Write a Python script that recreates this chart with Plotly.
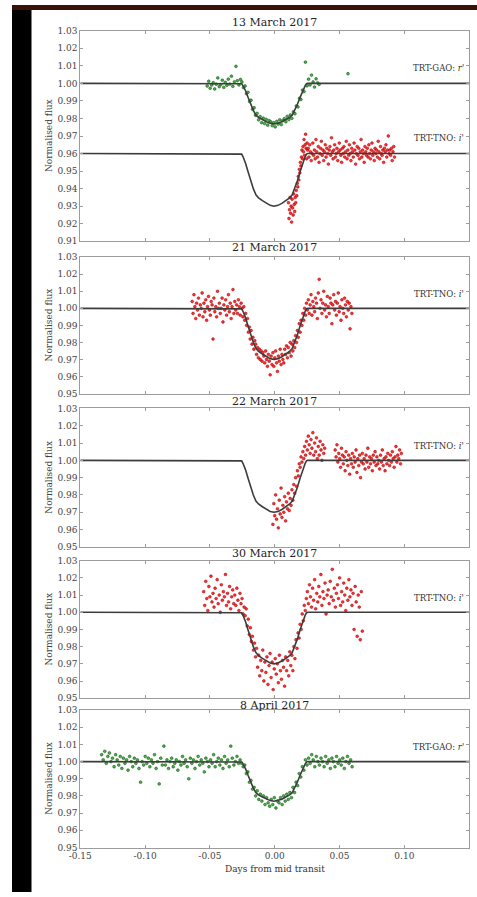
import plotly.graph_objects as go

W, H = 477, 897

# ---------------- transit model (shared shape, days from mid transit) ----------------
model_t = [-0.15, -0.0265, -0.0255, -0.0245, -0.0225, -0.0205, -0.0185, -0.0165, -0.0145,
           -0.0125, -0.0095, -0.0065, -0.0035, -0.0005, 0.0025, 0.0055, 0.0085, 0.0115,
           0.0135, 0.0155, 0.0175, 0.0195, 0.0215, 0.0235, 0.0245, 0.0255, 0.15]
model_tno = [1.0, 1.0, 0.9997, 0.9983, 0.9945, 0.9895, 0.9845, 0.9800, 0.9765,
             0.9748, 0.9732, 0.9716, 0.9705, 0.9700, 0.9705, 0.9716, 0.9732, 0.9748,
             0.9765, 0.9800, 0.9845, 0.9895, 0.9945, 0.9983, 0.9997, 1.0, 1.0]
model_gao = [1.0, 1.0, 0.9998, 0.9987, 0.9958, 0.9919, 0.9881, 0.9846, 0.9819,
             0.9806, 0.9794, 0.9781, 0.9773, 0.9769, 0.9773, 0.9781, 0.9794, 0.9806,
             0.9819, 0.9846, 0.9881, 0.9919, 0.9958, 0.9987, 0.9998, 1.0, 1.0]

# vertical shift applied to the TNO light curve of 13 March for display
TNO_OFFSET_13MAR = 0.04

# ---------------- 13 March 2017, TRT-GAO r' ----------------
gao_13mar_t = [
    -0.0521, -0.0509, -0.0498, -0.0486, -0.0474, -0.0463, -0.0451, -0.0439, -0.0428, -0.0416,
    -0.0404, -0.0393, -0.0381, -0.0369, -0.0358, -0.0346, -0.0334, -0.0323, -0.0311, -0.0299,
    -0.0288, -0.0276, -0.0264, -0.0253, -0.0241, -0.0229, -0.0218, -0.0206, -0.0194, -0.0183,
    -0.0171, -0.0159, -0.0148, -0.0136, -0.0124, -0.0113, -0.0101, -0.0089, -0.0078, -0.0066,
    -0.0054, -0.0043, -0.0031, -0.0019, -0.0008, 0.0004, 0.0016, 0.0027, 0.0039, 0.0051,
    0.0062, 0.0074, 0.0086, 0.0097, 0.0109, 0.0121, 0.0132, 0.0144, 0.0156, 0.0167,
    0.0179, 0.0191, 0.0202, 0.0214, 0.0226, 0.0237, 0.0249, 0.0261, 0.0272, 0.0284,
    0.0296, 0.0307, 0.0319, 0.0331, 0.0342, 0.0565]
gao_13mar_f = [
    0.9985, 1.0012, 0.9972, 0.9990, 1.0004, 0.9968, 0.9995, 1.0031, 0.9981, 0.9993,
    1.0018, 0.9977, 1.0006, 0.9989, 1.0024, 0.9996, 1.0041, 0.9983, 1.0009, 1.0097,
    1.0015, 0.9991, 1.0022, 1.0008, 0.9976, 0.9985, 0.9941, 0.9949, 0.9897, 0.9904,
    0.9852, 0.9861, 0.9818, 0.9829, 0.9792, 0.9811, 0.9776, 0.9802, 0.9771, 0.9795,
    0.9762, 0.9788, 0.9781, 0.9759, 0.9776, 0.9752, 0.9783, 0.9768, 0.9792, 0.9765,
    0.9788, 0.9799, 0.9781, 0.9812, 0.9794, 0.9820, 0.9801, 0.9838, 0.9827, 0.9871,
    0.9866, 0.9915, 0.9908, 0.9962, 0.9953, 1.0121, 0.9986, 1.0024, 0.9991, 1.0047,
    1.0008, 0.9979, 1.0026, 1.0003, 0.9994, 1.0055]

# ---------------- 13 March 2017, TRT-TNO i' ----------------
tno_13mar_t = [
    0.0106, 0.0110, 0.0114, 0.0118, 0.0122, 0.0126, 0.0130, 0.0134, 0.0138, 0.0142,
    0.0146, 0.0150, 0.0154, 0.0158, 0.0162, 0.0166, 0.0170, 0.0174, 0.0178, 0.0182,
    0.0186, 0.0190, 0.0194, 0.0198, 0.0202, 0.0206, 0.0210, 0.0214, 0.0218, 0.0222,
    0.0226, 0.0230, 0.0234, 0.0238, 0.0242, 0.0246, 0.0250, 0.0254,
    0.0258, 0.0264, 0.0270, 0.0276, 0.0282, 0.0288, 0.0294, 0.0300, 0.0306, 0.0312,
    0.0318, 0.0324, 0.0330, 0.0336, 0.0342, 0.0348, 0.0354, 0.0360, 0.0366, 0.0372,
    0.0378, 0.0384, 0.0390, 0.0396, 0.0402, 0.0408, 0.0414, 0.0420, 0.0426, 0.0432,
    0.0438, 0.0444, 0.0450, 0.0456, 0.0462, 0.0468, 0.0474, 0.0480, 0.0486, 0.0492,
    0.0498, 0.0504, 0.0510, 0.0516, 0.0522, 0.0528, 0.0534, 0.0540, 0.0546, 0.0552,
    0.0558, 0.0564, 0.0570, 0.0576, 0.0582, 0.0588, 0.0594, 0.0600, 0.0606, 0.0612,
    0.0618, 0.0624, 0.0630, 0.0636, 0.0642, 0.0648, 0.0654, 0.0660, 0.0666, 0.0672,
    0.0678, 0.0684, 0.0690, 0.0696, 0.0702, 0.0708, 0.0714, 0.0720, 0.0726, 0.0732,
    0.0738, 0.0744, 0.0750, 0.0756, 0.0762, 0.0768, 0.0774, 0.0780, 0.0786, 0.0792,
    0.0798, 0.0804, 0.0810, 0.0816, 0.0822, 0.0828, 0.0834, 0.0840, 0.0846, 0.0852,
    0.0858, 0.0864, 0.0870, 0.0876, 0.0882, 0.0888, 0.0894, 0.0900, 0.0906, 0.0912,
    0.0918, 0.0924]
tno_13mar_f = [
    0.972, 0.963, 0.968, 0.975, 0.966, 0.970, 0.961, 0.974, 0.969, 0.965,
    0.977, 0.971, 0.967, 0.975, 0.972, 0.979, 0.976, 0.983, 0.981, 0.987,
    0.985, 0.991, 0.989, 0.995, 0.993, 0.998, 1.002, 0.997, 1.004, 1.001,
    1.008, 0.999, 1.005, 1.011, 1.003, 0.997, 1.006, 1.002,
    1.003, 0.998, 1.005, 1.001, 0.996, 1.000, 1.006, 0.999, 1.002, 0.997,
    1.008, 1.001, 0.998, 1.004, 0.995, 1.000, 1.003, 1.007, 0.999, 1.002,
    0.996, 1.001, 1.005, 0.998, 1.003, 1.000, 0.994, 1.002, 1.004, 0.999,
    1.009, 1.001, 0.997, 1.002, 1.005, 0.998, 1.000, 1.003, 0.996, 1.001,
    1.006, 1.002, 0.999, 0.995, 1.003, 1.000, 1.004, 0.998, 1.001, 1.007,
    0.997, 1.002, 0.999, 1.005, 1.000, 0.996, 1.003, 1.001, 0.998, 1.006,
    1.002, 0.994, 1.000, 1.004, 0.999, 1.003, 0.997, 1.001, 1.008, 0.998,
    1.002, 1.000, 0.995, 1.004, 1.001, 0.999, 1.003, 0.998, 1.005, 1.000,
    0.997, 1.002, 1.006, 0.999, 1.001, 0.996, 1.003, 1.000, 1.002, 0.998,
    1.007, 1.001, 0.997, 1.004, 1.000, 0.999, 1.002, 0.995, 1.003, 1.001,
    1.005, 0.998, 1.002, 1.010, 1.000, 1.002, 0.999, 1.003, 0.996, 1.001,
    1.004, 0.998]

# ---------------- 21 March 2017, TRT-TNO i' ----------------
tno_21mar_t = [
    -0.0637, -0.0630, -0.0623, -0.0616, -0.0609, -0.0602, -0.0595, -0.0588, -0.0581, -0.0574,
    -0.0567, -0.0560, -0.0553, -0.0546, -0.0539, -0.0532, -0.0525, -0.0518, -0.0511, -0.0504,
    -0.0497, -0.0490, -0.0483, -0.0476, -0.0469, -0.0462, -0.0455, -0.0448, -0.0441, -0.0434,
    -0.0427, -0.0420, -0.0413, -0.0406, -0.0399, -0.0392, -0.0385, -0.0378, -0.0371, -0.0364,
    -0.0357, -0.0350, -0.0343, -0.0336, -0.0329, -0.0322, -0.0315, -0.0308, -0.0301, -0.0294,
    -0.0287, -0.0280, -0.0273, -0.0266, -0.0259, -0.0252, -0.0245, -0.0238, -0.0231, -0.0224,
    -0.0217, -0.0210, -0.0203, -0.0196, -0.0189, -0.0182, -0.0175, -0.0168, -0.0161, -0.0154,
    -0.0147, -0.0140, -0.0133, -0.0126, -0.0119, -0.0112, -0.0105, -0.0098, -0.0091, -0.0084,
    -0.0077, -0.0070, -0.0063, -0.0056, -0.0049, -0.0042, -0.0035, -0.0028, -0.0021, -0.0014,
    -0.0007, 0.0000, 0.0007, 0.0014, 0.0021, 0.0028, 0.0035, 0.0042, 0.0049, 0.0056,
    0.0063, 0.0070, 0.0077, 0.0084, 0.0091, 0.0098, 0.0105, 0.0112, 0.0119, 0.0126,
    0.0133, 0.0140, 0.0147, 0.0154, 0.0161, 0.0168, 0.0175, 0.0182, 0.0189, 0.0196,
    0.0203, 0.0210, 0.0217, 0.0224, 0.0231, 0.0238, 0.0245, 0.0252, 0.0259, 0.0266,
    0.0273, 0.0280, 0.0287, 0.0294, 0.0301, 0.0308, 0.0315, 0.0322, 0.0329, 0.0336,
    0.0343, 0.0350, 0.0357, 0.0364, 0.0371, 0.0378, 0.0385, 0.0392, 0.0399, 0.0406,
    0.0413, 0.0420, 0.0427, 0.0434, 0.0441, 0.0448, 0.0455, 0.0462, 0.0469, 0.0476,
    0.0483, 0.0490, 0.0497, 0.0504, 0.0511, 0.0518, 0.0525, 0.0532, 0.0539, 0.0546,
    0.0553, 0.0560, 0.0567, 0.0574, 0.0581, 0.0588, 0.0595]
tno_21mar_f = [
    1.004, 0.997, 1.008, 1.001, 0.994, 1.003, 0.999, 1.006, 0.996, 1.002,
    1.000, 1.009, 0.995, 1.003, 0.998, 1.005, 0.993, 1.001, 1.007, 0.999,
    0.996, 1.004, 1.002, 0.982, 1.006, 0.998, 1.001, 0.995, 1.010, 1.000,
    1.003, 0.997, 1.000, 1.006, 0.992, 1.002, 0.999, 1.005, 0.996, 1.001,
    1.008, 0.998, 1.003, 0.994, 1.001, 1.011, 0.997, 1.004, 0.999, 1.002,
    0.997, 1.005, 1.001, 0.996, 1.003, 1.000, 0.995, 1.001, 0.993, 0.997,
    0.990, 0.994, 0.986, 0.989, 0.982, 0.987, 0.979, 0.983, 0.976, 0.981,
    0.979, 0.973, 0.977, 0.971, 0.976, 0.970, 0.975, 0.969, 0.974, 0.972,
    0.968, 0.975, 0.970, 0.966, 0.973, 0.969, 0.961, 0.972, 0.967, 0.974,
    0.966, 0.971, 0.975, 0.968, 0.963, 0.972, 0.969, 0.976, 0.967, 0.973,
    0.970, 0.968, 0.976, 0.973, 0.978, 0.971, 0.977, 0.974, 0.980, 0.972,
    0.979, 0.975, 0.981, 0.977, 0.984, 0.980, 0.987, 0.983, 0.991, 0.986,
    0.993, 0.990, 0.997, 0.993, 1.000, 0.996, 1.003, 0.999, 1.005, 0.997,
    1.002, 1.008, 0.996, 1.004, 1.001, 0.998, 1.006, 1.003, 0.994, 1.009,
    1.017, 1.000, 1.005, 0.997, 1.003, 1.010, 0.999, 1.002, 0.995, 1.007,
    1.001, 0.997, 1.006, 1.003, 0.991, 1.002, 1.008, 0.999, 1.004, 0.996,
    1.003, 1.009, 0.998, 1.001, 0.993, 1.005, 1.000, 0.997, 1.006, 1.002,
    0.995, 1.004, 0.999, 1.003, 0.988, 1.001, 0.997]

# ---------------- 22 March 2017, TRT-TNO i' ----------------
tno_22mar_t = [
    -0.0014, -0.0007, 0.0000, 0.0007, 0.0014, 0.0021, 0.0028, 0.0035, 0.0042, 0.0049,
    0.0056, 0.0063, 0.0070, 0.0077, 0.0084, 0.0091, 0.0098, 0.0105, 0.0112, 0.0119,
    0.0126, 0.0133, 0.0140, 0.0147, 0.0154, 0.0161, 0.0168, 0.0175, 0.0182, 0.0189,
    0.0196, 0.0203, 0.0210, 0.0217, 0.0224, 0.0231, 0.0238, 0.0245, 0.0252, 0.0259,
    0.0266, 0.0273, 0.0280, 0.0287, 0.0294, 0.0301, 0.0308, 0.0315, 0.0322, 0.0329,
    0.0336, 0.0343, 0.0350, 0.0357, 0.0364, 0.0371, 0.0378, 0.0385,
    0.0466, 0.0473, 0.0480, 0.0487, 0.0494, 0.0501, 0.0508, 0.0515, 0.0522, 0.0529,
    0.0536, 0.0543, 0.0550, 0.0557, 0.0564, 0.0571, 0.0578, 0.0585, 0.0592, 0.0599,
    0.0606, 0.0613, 0.0620, 0.0627, 0.0634, 0.0641, 0.0648, 0.0655, 0.0662, 0.0669,
    0.0676, 0.0683, 0.0690, 0.0697, 0.0704, 0.0711, 0.0718, 0.0725, 0.0732, 0.0739,
    0.0746, 0.0753, 0.0760, 0.0767, 0.0774, 0.0781, 0.0788, 0.0795, 0.0802, 0.0809,
    0.0816, 0.0823, 0.0830, 0.0837, 0.0844, 0.0851, 0.0858, 0.0865, 0.0872, 0.0879,
    0.0886, 0.0893, 0.0900, 0.0907, 0.0914, 0.0921, 0.0928, 0.0935, 0.0942, 0.0949,
    0.0956, 0.0963, 0.0970, 0.0977]
tno_22mar_f = [
    0.963, 0.975, 0.968, 0.980, 0.966, 0.972, 0.961, 0.977, 0.969, 0.984,
    0.967, 0.974, 0.970, 0.979, 0.965, 0.976, 0.972, 0.981, 0.971, 0.978,
    0.974, 0.983, 0.977, 0.986, 0.981, 0.990, 0.985, 0.994, 0.991, 0.998,
    0.996, 1.002, 0.999, 1.005, 1.001, 1.008, 1.003, 1.011, 1.006, 1.014,
    1.009, 1.004, 1.012, 1.007, 1.016, 1.003, 1.010, 1.005, 1.013, 1.001,
    1.008, 1.003, 1.011, 1.006, 1.000, 1.009, 1.004, 1.007,
    1.006, 1.002, 1.009, 0.999, 1.004, 1.001, 0.996, 1.007, 1.003, 0.998,
    1.002, 0.994, 1.005, 1.000, 0.997, 1.003, 0.992, 1.001, 0.998, 1.004,
    0.996, 1.002, 0.999, 1.006, 0.993, 1.001, 0.997, 1.003, 0.990, 0.999,
    1.004, 0.998, 1.001, 0.995, 1.003, 0.999, 1.007, 0.996, 1.002, 0.998,
    1.001, 0.994, 1.003, 0.999, 1.005, 0.997, 1.002, 0.998, 1.000, 0.995,
    1.003, 0.999, 1.006, 0.997, 1.001, 0.994, 1.002, 0.998, 1.004, 1.000,
    0.997, 1.003, 0.999, 1.005, 1.001, 0.996, 1.002, 1.008, 0.999, 1.003,
    1.001, 1.006, 0.998, 1.004]

# ---------------- 30 March 2017, TRT-TNO i' ----------------
tno_30mar_t = [
    -0.0548, -0.0540, -0.0532, -0.0524, -0.0516, -0.0508, -0.0500, -0.0492, -0.0484, -0.0476,
    -0.0468, -0.0460, -0.0452, -0.0444, -0.0436, -0.0428, -0.0420, -0.0412, -0.0404, -0.0396,
    -0.0388, -0.0380, -0.0372, -0.0364, -0.0356, -0.0348, -0.0340, -0.0332, -0.0324, -0.0316,
    -0.0308, -0.0300, -0.0292, -0.0284, -0.0276, -0.0268, -0.0260, -0.0252, -0.0244, -0.0236,
    -0.0228, -0.0220, -0.0212, -0.0204, -0.0196, -0.0188, -0.0180, -0.0172, -0.0164, -0.0156,
    -0.0148, -0.0140, -0.0132, -0.0124, -0.0116, -0.0108, -0.0100, -0.0092, -0.0084, -0.0076,
    -0.0068, -0.0060, -0.0052, -0.0044, -0.0036, -0.0028, -0.0020, -0.0012, -0.0004, 0.0004,
    0.0012, 0.0020, 0.0028, 0.0036, 0.0044, 0.0052, 0.0060, 0.0068, 0.0076, 0.0084,
    0.0092, 0.0100, 0.0108, 0.0116, 0.0124, 0.0132, 0.0140, 0.0148, 0.0156, 0.0164,
    0.0172, 0.0180, 0.0188, 0.0196, 0.0204, 0.0212, 0.0220, 0.0228, 0.0236, 0.0244,
    0.0252, 0.0260, 0.0268, 0.0276, 0.0284, 0.0292, 0.0300, 0.0308, 0.0316, 0.0324,
    0.0332, 0.0340, 0.0348, 0.0356, 0.0364, 0.0372, 0.0380, 0.0388, 0.0396, 0.0404,
    0.0412, 0.0420, 0.0428, 0.0436, 0.0444, 0.0452, 0.0460, 0.0468, 0.0476, 0.0484,
    0.0492, 0.0500, 0.0508, 0.0516, 0.0524, 0.0532, 0.0540, 0.0548, 0.0556, 0.0564,
    0.0572, 0.0580, 0.0588, 0.0596, 0.0604, 0.0612, 0.0620, 0.0628, 0.0636, 0.0644,
    0.0652, 0.0660, 0.0668, 0.0676]
tno_30mar_f = [
    1.012, 1.004, 1.018, 1.008, 1.001, 1.015, 1.009, 1.021, 1.006, 1.011,
    1.003, 1.014, 1.008, 1.019, 1.005, 1.010, 1.000, 1.016, 1.007, 1.012,
    1.009, 1.022, 1.004, 1.011, 1.006, 1.015, 1.002, 1.009, 1.013, 1.005,
    1.010, 1.004, 1.014, 1.007, 1.001, 1.011, 1.005, 1.008, 0.999, 1.003,
    0.998, 1.002, 0.992, 0.996, 0.987, 0.991, 0.983, 0.986, 0.978, 0.982,
    0.974, 0.979, 0.968, 0.975, 0.963, 0.972, 0.966, 0.978, 0.960, 0.971,
    0.965, 0.974, 0.958, 0.969, 0.976, 0.962, 0.971, 0.955, 0.967, 0.973,
    0.964, 0.970, 0.959, 0.975, 0.966, 0.961, 0.972, 0.968, 0.957, 0.974,
    0.966, 0.972, 0.963, 0.977, 0.969, 0.975, 0.966, 0.980, 0.973, 0.984,
    0.979, 0.988, 0.985, 0.993, 0.990, 0.999, 0.995, 1.004, 1.001, 1.008,
    1.012, 1.005, 1.016, 1.009, 1.003, 1.014, 1.007, 1.019, 1.002, 1.011,
    1.006, 1.015, 1.009, 1.022, 1.004, 1.012, 1.008, 1.017, 0.999, 1.010,
    1.013, 1.005, 1.018, 1.009, 1.025, 1.007, 1.014, 1.003, 1.011, 1.016,
    1.008, 1.020, 1.004, 1.012, 1.006, 1.017, 1.010, 1.001, 1.014, 1.007,
    1.019, 1.009, 1.013, 1.004, 1.011, 0.990, 1.015, 1.006, 0.986, 1.010,
    1.003, 0.984, 1.012, 0.989]

# ---------------- 8 April 2017, TRT-GAO r' ----------------
gao_8apr_t = [
    -0.1335, -0.1323, -0.1311, -0.1299, -0.1287, -0.1275, -0.1263, -0.1251, -0.1239, -0.1227,
    -0.1215, -0.1203, -0.1191, -0.1179, -0.1167, -0.1155, -0.1143, -0.1131, -0.1119, -0.1107,
    -0.1095, -0.1083, -0.1071, -0.1059, -0.1047, -0.1035, -0.1023, -0.1011, -0.0999, -0.0987,
    -0.0975, -0.0963, -0.0951, -0.0939, -0.0927, -0.0915, -0.0903, -0.0891, -0.0879, -0.0867,
    -0.0855, -0.0843, -0.0831, -0.0819, -0.0807, -0.0795, -0.0783, -0.0771, -0.0759, -0.0747,
    -0.0735, -0.0723, -0.0711, -0.0699, -0.0687, -0.0675, -0.0663, -0.0651, -0.0639, -0.0627,
    -0.0615, -0.0603, -0.0591, -0.0579, -0.0567, -0.0555, -0.0543, -0.0531, -0.0519, -0.0507,
    -0.0495, -0.0483, -0.0471, -0.0459, -0.0447, -0.0435, -0.0423, -0.0411, -0.0399, -0.0387,
    -0.0375, -0.0363, -0.0351, -0.0339, -0.0327, -0.0315, -0.0303, -0.0291, -0.0279, -0.0267,
    -0.0255, -0.0243, -0.0231, -0.0219, -0.0207, -0.0195, -0.0183, -0.0171, -0.0159, -0.0147,
    -0.0135, -0.0123, -0.0111, -0.0099, -0.0087, -0.0075, -0.0063, -0.0051, -0.0039, -0.0027,
    -0.0015, -0.0003, 0.0009, 0.0021, 0.0033, 0.0045, 0.0057, 0.0069, 0.0081, 0.0093,
    0.0105, 0.0117, 0.0129, 0.0141, 0.0153, 0.0165, 0.0177, 0.0189, 0.0201, 0.0213,
    0.0225, 0.0237, 0.0249, 0.0261, 0.0273, 0.0285, 0.0297, 0.0309, 0.0321, 0.0333,
    0.0345, 0.0357, 0.0369, 0.0381, 0.0393, 0.0405, 0.0417, 0.0429, 0.0441, 0.0453,
    0.0465, 0.0477, 0.0489, 0.0501, 0.0513, 0.0525, 0.0537, 0.0549, 0.0561, 0.0573,
    0.0585, 0.0597]
gao_8apr_f = [
    1.004, 1.001, 1.006, 0.999, 1.003, 1.005, 1.000, 1.002, 0.997, 1.004,
    1.001, 0.998, 1.003, 0.996, 1.002, 0.999, 1.001, 0.995, 1.003, 1.000,
    0.997, 1.002, 0.999, 1.001, 0.996, 0.988, 1.000, 0.998, 1.003, 0.999,
    1.002, 0.997, 1.001, 0.999, 1.004, 0.996, 1.000, 0.987, 1.002, 0.998,
    1.009, 0.998, 1.001, 0.996, 1.000, 1.002, 0.997, 0.999, 1.001, 0.995,
    1.000, 0.998, 1.003, 0.999, 1.001, 0.997, 0.990, 1.002, 0.999, 1.001,
    0.996, 1.000, 1.003, 0.998, 1.001, 0.999, 0.994, 1.002, 1.000, 0.997,
    1.001, 0.999, 1.004, 0.997, 1.000, 1.002, 0.998, 1.001, 0.996, 1.003,
    0.999, 1.001, 0.997, 1.009, 1.002, 0.998, 1.000, 1.003, 0.999, 1.001,
    0.999, 0.997, 0.998, 0.993, 0.994, 0.988, 0.989, 0.984, 0.985, 0.980,
    0.983, 0.978, 0.981, 0.977, 0.980, 0.975, 0.979, 0.976, 0.974, 0.978,
    0.975, 0.979, 0.973, 0.977, 0.976, 0.979, 0.975, 0.980, 0.977, 0.981,
    0.978, 0.982, 0.979, 0.985, 0.982, 0.988, 0.986, 0.993, 0.991, 0.997,
    0.995, 1.001, 0.998, 1.002, 0.999, 1.004, 1.001, 0.997, 1.003, 1.000,
    0.998, 1.002, 1.000, 0.997, 1.003, 0.999, 1.001, 0.996, 1.002, 1.000,
    0.997, 1.003, 0.999, 1.001, 0.998, 1.002, 0.996, 1.000, 1.003, 0.999,
    1.001, 0.997]

panel_titles = ["13 March 2017", "21 March 2017", "22 March 2017", "30 March 2017", "8 April 2017"]
y_ranges = [(0.91, 1.03), (0.95, 1.03), (0.95, 1.03), (0.95, 1.03), (0.95, 1.03)]
x_ticks = [-0.15, -0.10, -0.05, 0.00, 0.05, 0.10, 0.15]
x_tick_text = ["-0.15", "-0.10", "-0.05", "0.00", "0.05", "0.10", "0.15"]
x_label = "Days from mid transit"
y_label = "Normalised flux"
label_gao = "TRT-GAO: <i>r'</i>"
label_tno = "TRT-TNO: <i>i'</i>"

# ---------------- styling ----------------
FONT = "DejaVu Serif"
RED = dict(color="rgba(255,25,30,0.9)", size=2.8, line=dict(color="#a00000", width=0.5))
GREEN = dict(color="rgba(55,165,55,0.9)", size=2.8, line=dict(color="#0d4d0d", width=0.5))
MODEL_LINE = dict(color="#3c3c3c", width=1.6)
FRAME = "#9c9c9c"

# panel boxes in pixels: (top, bottom); shared horizontal extent
panel_px = [(26, 239), (255, 393), (408, 548), (562, 701), (713, 852)]
plot_left, plot_right = 70, 469
title_y_px = [18, 245, 401, 555, 708]

fig = go.Figure()


def add_points(i, t, f, style):
    fig.add_trace(go.Scatter(x=t, y=f, mode="markers", marker=style,
                             xaxis=f"x{i}", yaxis=f"y{i}", showlegend=False,
                             hoverinfo="skip"))


def add_model(i, f):
    fig.add_trace(go.Scatter(x=model_t, y=f, mode="lines", line=MODEL_LINE,
                             xaxis=f"x{i}", yaxis=f"y{i}", showlegend=False,
                             hoverinfo="skip"))


# 13 March: GAO r' and shifted TNO i'
add_points(1, gao_13mar_t, gao_13mar_f, GREEN)
add_points(1, tno_13mar_t, [v - TNO_OFFSET_13MAR for v in tno_13mar_f], RED)
add_model(1, model_gao)
add_model(1, [v - TNO_OFFSET_13MAR for v in model_tno])
# 21, 22, 30 March: TNO i'
add_points(2, tno_21mar_t, tno_21mar_f, RED)
add_model(2, model_tno)
add_points(3, tno_22mar_t, tno_22mar_f, RED)
add_model(3, model_tno)
add_points(4, tno_30mar_t, tno_30mar_f, RED)
add_model(4, model_tno)
# 8 April: GAO r'
add_points(5, gao_8apr_t, gao_8apr_f, GREEN)
add_model(5, model_gao)

layout = dict(
    width=W, height=H,
    margin=dict(l=0, r=0, t=0, b=0),
    paper_bgcolor="white", plot_bgcolor="white",
    font=dict(family=FONT, color="#3a3a3a"),
)

annotations = []
for k, (top, bot) in enumerate(panel_px):
    i = k + 1
    sfx = "" if i == 1 else str(i)
    lo, hi = y_ranges[k]
    nt = int(round((hi - lo) / 0.01)) + 1
    yvals = [round(lo + 0.01 * j, 2) for j in range(nt)]
    layout[f"xaxis{sfx}"] = dict(
        domain=[plot_left / W, plot_right / W], range=[-0.15, 0.15],
        anchor=f"y{i}", showline=True, mirror="ticks", linecolor=FRAME, linewidth=1,
        ticks="inside", ticklen=3, tickcolor=FRAME, tickvals=x_ticks, ticktext=x_tick_text,
        showticklabels=(i == 5), showgrid=False, zeroline=False,
        tickfont=dict(family=FONT, size=9, color="#444"),
    )
    layout[f"yaxis{sfx}"] = dict(
        domain=[1 - bot / H, 1 - top / H], range=[lo, hi],
        anchor=f"x{i}", showline=True, mirror="ticks", linecolor=FRAME, linewidth=1,
        ticks="inside", ticklen=3, tickcolor=FRAME, tickvals=yvals,
        ticktext=[f"{v:.2f}" for v in yvals], showgrid=False, zeroline=False,
        tickfont=dict(family=FONT, size=9, color="#444"),
    )
    # panel title
    annotations.append(dict(xref="paper", yref="paper", x=(plot_left + plot_right) / 2 / W,
                            y=1 - title_y_px[k] / H, text=panel_titles[k], showarrow=False,
                            xanchor="center", yanchor="middle",
                            font=dict(family=FONT, size=11, color="#222")))
    # y-axis label
    annotations.append(dict(xref="paper", yref="paper", x=38 / W,
                            y=1 - (top + bot) / 2 / H, text=y_label, showarrow=False,
                            textangle=-90, xanchor="center", yanchor="middle",
                            font=dict(family=FONT, size=9, color="#444")))

# instrument / filter labels
inst_labels = [(1, 1.009, label_gao), (1, 1.0086 - TNO_OFFSET_13MAR, label_tno),
               (2, 1.0085, label_tno), (3, 1.0085, label_tno), (4, 1.0085, label_tno),
               (5, 1.0085, label_gao)]
for i, yv, txt in inst_labels:
    annotations.append(dict(xref=f"x{i}", yref=f"y{i}", x=0.1475, y=yv, text=txt,
                            showarrow=False, xanchor="right", yanchor="middle",
                            font=dict(family=FONT, size=8.5, color="#333")))

# x-axis label
annotations.append(dict(xref="paper", yref="paper", x=(plot_left + plot_right) / 2 / W,
                        y=1 - 874 / H, text=x_label, showarrow=False,
                        xanchor="center", yanchor="middle",
                        font=dict(family=FONT, size=9, color="#333")))
layout["annotations"] = annotations

# dark page edges around the figure
layout["shapes"] = [
    dict(type="rect", xref="paper", yref="paper", x0=0, x1=20 / W, y0=0, y1=1,
         fillcolor="black", line=dict(width=0), layer="above"),
    dict(type="rect", xref="paper", yref="paper", x0=0, x1=1, y0=1 - 5 / H, y1=1,
         fillcolor="#3a1208", line=dict(width=0), layer="above"),
]

fig.update_layout(**layout)
fig.write_html("out.html")
